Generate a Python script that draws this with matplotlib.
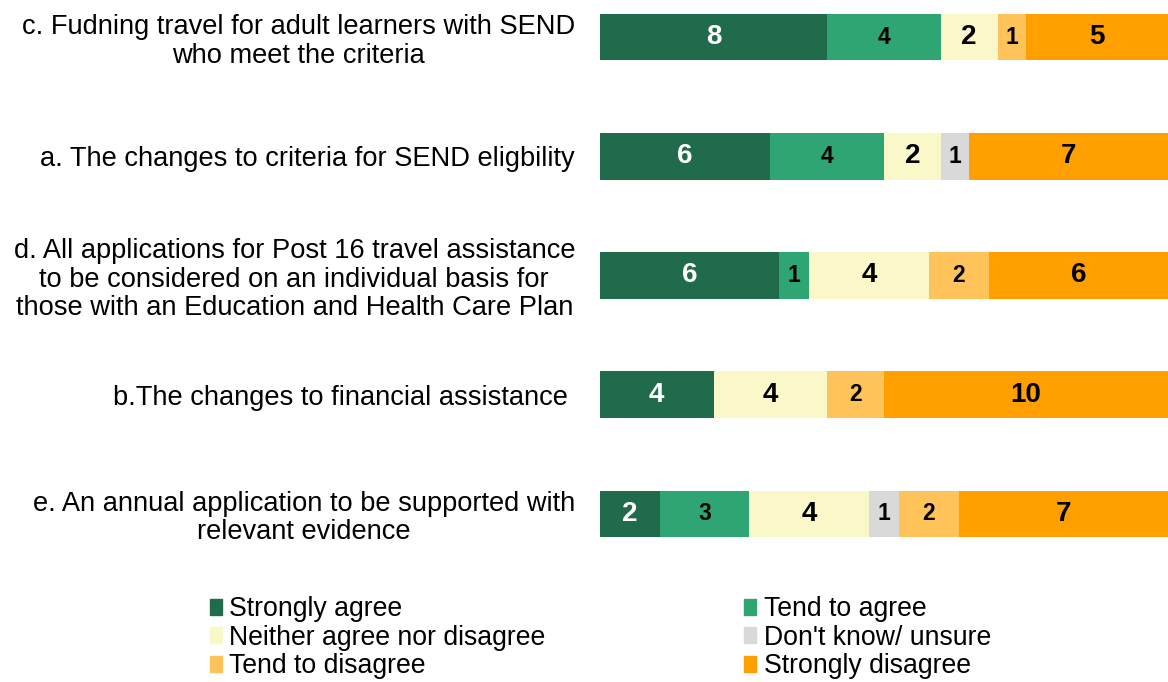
import numpy as np
import matplotlib.pyplot as plt
from matplotlib.patches import Patch

plt.rcParams['font.family'] = ['Liberation Sans', 'DejaVu Sans']

# Dados (contagens de respostas)
perguntas = [
    'c. Fudning travel for adult learners with SEND\nwho meet the criteria',
    'a. The changes to criteria for SEND eligbility',
    'd. All applications for Post 16 travel assistance\nto be considered on an individual basis for\nthose with an Education and Health Care Plan',
    'b.The changes to financial assistance ',
    'e. An annual application to be supported with\nrelevant evidence',
]
categorias = ['Strongly agree', 'Tend to agree', 'Neither agree nor disagree',
              "Don't know/ unsure", 'Tend to disagree', 'Strongly disagree']
strongly_agree = [8, 6, 6, 4, 2]
tend_agree = [4, 4, 1, 0, 3]
neither = [2, 2, 4, 4, 4]
dont_know = [0, 1, 0, 0, 1]
tend_disagree = [1, 0, 2, 2, 2]
strongly_disagree = [5, 7, 6, 10, 7]

cores = ['#1F6B4B', '#30A574', '#FAF8C8', '#D9D9D9', '#FFC35A', '#FFA000']
cor_texto = ['white', 'black', 'black', 'black', 'black', 'black']
tam_texto = [20, 16.5, 20, 16.5, 16.5, 20]

series = np.array([strongly_agree, tend_agree, neither, dont_know,
                   tend_disagree, strongly_disagree], dtype=float)
totais = series.sum(axis=0)
pct = series / totais  # barras 100% empilhadas

fig = plt.figure(figsize=(11.68, 6.82), dpi=100)
ax = fig.add_axes([0.5137, 0.2126, 0.4863, 0.767])

y = np.arange(len(perguntas))
esquerda = np.zeros(len(perguntas))
for i, cat in enumerate(categorias):
    ax.barh(y, pct[i], left=esquerda, height=0.39, color=cores[i], label=cat)
    for j in range(len(perguntas)):
        v = series[i, j]
        if v > 0:
            ax.text(esquerda[j] + pct[i, j] / 2, y[j], f'{int(v)}',
                    ha='center', va='center', fontsize=tam_texto[i],
                    fontweight='bold', color=cor_texto[i])
    esquerda += pct[i]

ax.set_xlim(0, 1)
ax.set_ylim(len(perguntas) - 1 + 0.195, -0.195)
ax.set_yticks(y)
ax.set_yticklabels(perguntas, fontsize=19.6, multialignment='center',
                   linespacing=1.12)
ax.tick_params(axis='y', length=0, pad=18)
ax.set_xticks([])
for s in ax.spines.values():
    s.set_visible(False)

# Legenda em duas colunas, preenchida por linha
handles = [Patch(color=c) for c in cores]
ordem = [0, 2, 4, 1, 3, 5]
fig.legend([handles[k] for k in ordem], [categorias[k] for k in ordem],
           ncol=2, loc='upper left', bbox_to_anchor=(0.18, 0.126),
           frameon=False, fontsize=19.2, handlelength=0.45, handleheight=0.55,
           handletextpad=0.27, labelspacing=0.1, columnspacing=7.45,
           borderpad=0, borderaxespad=0)

plt.savefig('out.png', dpi=100)
plt.close()
